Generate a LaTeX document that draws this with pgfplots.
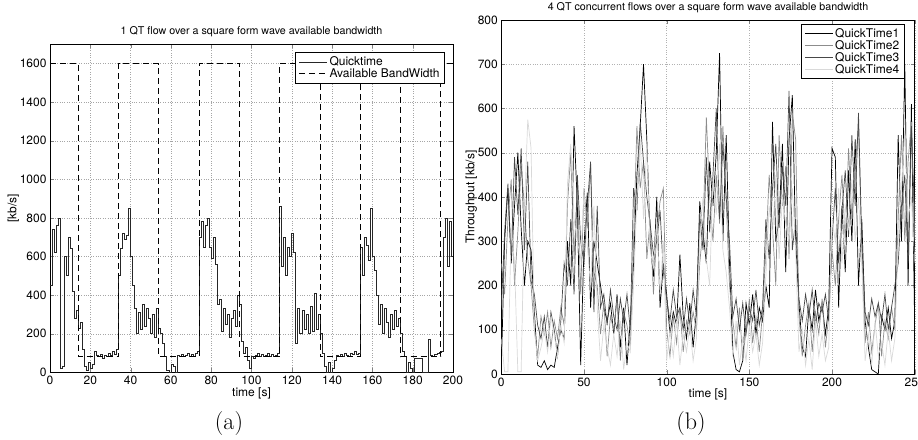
\documentclass[border=0pt]{standalone}
\usepackage{fontspec}
\usepackage{pgfplots}
\usepackage{pgfplotstable}
\pgfplotsset{compat=1.18}
\newfontfamily\hv{TeX Gyre Heros}
\newcommand\axf{\hv\fontsize{12}{14}\selectfont}
\newcommand\ttf{\hv\fontsize{10.7}{12}\selectfont}

% single Quicktime flow, 1 s steps
\pgfplotstableread{
t v
0 450
1 740
2 620
3 760
4 800
5 20
6 30
7 600
8 500
9 700
10 640
11 420
12 280
13 320
14 230
15 260
16 120
17 30
18 10
19 50
20 20
21 40
22 110
23 90
24 80
25 95
26 70
27 90
28 85
29 100
30 90
31 110
32 95
33 120
34 500
35 640
36 720
37 690
38 710
39 850
40 600
41 450
42 330
43 200
44 310
45 220
46 350
47 240
48 330
49 280
50 200
51 300
52 180
53 330
54 230
55 200
56 150
57 80
58 10
59 0
60 40
61 30
62 0
63 90
64 80
65 95
66 85
67 90
68 100
69 80
70 95
71 85
72 100
73 110
74 700
75 780
76 650
77 760
78 800
79 650
80 590
81 700
82 560
83 350
84 380
85 210
86 330
87 250
88 300
89 180
90 280
91 320
92 240
93 400
94 350
95 160
96 100
97 130
98 60
99 20
100 80
101 70
102 90
103 100
104 85
105 95
106 80
107 90
108 100
109 85
110 95
111 80
112 90
113 100
114 860
115 550
116 700
117 500
118 650
119 600
120 720
121 620
122 150
123 330
124 200
125 320
126 220
127 300
128 200
129 340
130 210
131 410
132 220
133 300
134 200
135 100
136 30
137 0
138 50
139 0
140 20
141 60
142 90
143 80
144 95
145 85
146 100
147 90
148 85
149 100
150 95
151 110
152 95
153 100
154 650
155 500
156 700
157 660
158 580
159 850
160 600
161 530
162 400
163 250
164 350
165 200
166 330
167 260
168 180
169 300
170 220
171 320
172 240
173 280
174 200
175 110
176 80
177 0
178 50
179 20
180 0
181 70
182 70
183 70
184 70
185 0
186 0
187 0
188 170
189 90
190 85
191 95
192 100
193 105
194 110
195 700
196 800
197 550
198 780
199 600
200 800
}\qtone

% four concurrent flows, 2 s steps
\pgfplotstableread{
t q1 q2 q3 q4
0 10 250 150 80
2 300 180 320 5
4 420 350 430 5
6 250 440 260 330
8 380 200 490 250
10 500 320 360 5
12 330 470 510 5
14 200 380 280 370
16 300 260 480 575
18 280 200 210 510
20 140 100 180 100
22 20 40 110 30
24 15 130 80 60
26 30 90 130 100
28 10 140 60 50
30 20 60 140 130
32 15 120 100 90
34 60 80 40 40
36 100 150 120 110
38 80 110 250 70
40 300 380 200 430
42 200 500 350 520
44 560 260 180 350
46 380 430 450 300
48 20 180 300 260
50 290 420 250 410
52 410 330 380 290
54 150 470 480 200
56 300 230 140 380
58 250 200 380 150
60 200 90 150 30
62 150 160 180 110
64 120 40 110 60
66 160 130 190 20
68 90 100 130 90
70 180 170 100 40
72 60 30 170 120
74 150 140 120 10
76 20 110 180 70
78 120 60 100 50
80 250 300 420 200
82 450 560 370 400
84 560 420 570 530
86 700 480 480 350
88 530 260 400 520
90 300 350 340 280
92 220 180 270 240
94 400 320 300 350
96 150 390 370 180
98 250 420 230 300
100 180 100 170 30
102 90 40 120 100
104 140 130 190 40
106 110 70 130 120
108 270 150 150 20
110 130 50 100 90
112 80 120 170 50
114 160 90 110 110
116 60 140 190 30
118 140 100 130 80
120 390 250 360 300
122 320 330 280 400
124 250 580 490 260
126 480 400 320 200
128 380 300 450 440
130 500 450 600 360
132 725 340 350 520
134 300 560 520 280
136 540 390 400 230
138 250 200 300 150
140 50 120 130 40
142 10 60 170 120
144 5 150 100 20
146 30 30 160 80
148 160 100 90 30
150 110 170 150 110
152 180 70 120 50
154 90 130 190 90
156 150 50 110 20
158 120 140 150 70
160 200 280 350 220
162 150 450 260 380
164 570 330 420 310
166 300 200 520 450
168 350 540 330 260
170 520 380 470 400
172 230 470 380 340
174 530 260 640 300
176 630 590 280 420
178 300 530 350 280
180 160 130 170 50
182 60 40 120 100
184 40 110 180 20
186 150 160 130 80
188 100 50 190 10
190 190 140 110 120
192 120 90 160 40
194 160 170 140 90
196 90 60 180 30
198 150 130 120 60
200 510 280 300 350
202 490 200 420 300
204 150 350 250 420
206 380 450 370 250
208 230 300 460 380
210 460 510 310 330
212 300 350 540 440
214 530 470 380 300
216 200 560 590 400
218 350 280 300 250
220 120 70 140 30
222 60 140 110 90
224 10 50 170 20
226 5 110 130 120
228 0 160 160 40
230 130 40 120 70
232 100 120 180 20
234 150 80 100 100
236 80 150 150 30
238 120 100 200 80
240 540 350 250 300
242 300 540 380 420
244 700 300 450 550
246 200 480 250 350
248 610 570 560 400
250 100 300 350 250
}\qtfour

\pgfplotsset{
  mlab/.style={
    scale only axis,
    anchor=south west,
    /pgf/number format/assume math mode=true,
    /pgf/number format/1000 sep={},
    tick label style={font=\axf},
    label style={font=\axf},
    title style={font=\ttf, yshift=-2pt},
    xlabel style={yshift=4pt},
    tick align=inside,
    major tick length=4pt,
    axis line style={line width=0.8pt},
    grid=major,
    major grid style={dotted, gray!70},
    legend cell align=left,
    legend style={draw=black, line width=0.9pt, font=\axf, row sep=-2.5pt},
    legend image code/.code={\draw[#1] (0pt,0pt) -- (28pt,0pt);},
  },
}

\begin{document}
\begin{tikzpicture}
\begin{axis}[mlab,
  at={(50pt,66.7pt)},
  width=403pt, height=328pt,
  xmin=0, xmax=200, ymin=0, ymax=1700,
  xtick={0,20,...,200},
  ytick={0,200,...,1600},
  title={1 QT flow over a square form wave available bandwidth},
  xlabel={time [s]},
  ylabel={[kb/s]},
  ylabel style={yshift=-6pt},
  legend style={at={(rel axis cs:1,1)}, anchor=north east, xshift=-8pt, yshift=-8pt},
]
\addplot[const plot, black!85, line width=0.75pt] table[x=t, y=v] {\qtone};
\addlegendentry{Quicktime}
\addplot[const plot, black, line width=1pt, dash pattern=on 6pt off 4pt] coordinates {
(0,1600)(14,80)(34,1600)(54,80)(74,1600)(94,80)(114,1600)(134,80)(154,1600)(174,80)(194,1600)(200,1600)
};
\addlegendentry{Available BandWidth}
\end{axis}

\begin{axis}[mlab,
  at={(501.3pt,65pt)},
  width=413.4pt, height=354pt,
  xmin=0, xmax=250, ymin=0, ymax=800,
  xtick={0,50,...,250},
  ytick={0,100,...,800},
  major grid style={dotted, gray!60},
  title={4 QT concurrent flows over a square form wave available bandwidth},
  xlabel={time [s]},
  ylabel={Throughput [kb/s]},
  ylabel style={yshift=-6pt},
  legend style={at={(rel axis cs:1,1)}, anchor=north east, xshift=-10pt, yshift=-4pt},
]
\addplot[black, line width=0.7pt] table[x=t, y=q1] {\qtfour};
\addlegendentry{QuickTime1}
\addplot[black!45, line width=0.7pt] table[x=t, y=q2] {\qtfour};
\addlegendentry{QuickTime2}
\addplot[black!72, line width=0.7pt] table[x=t, y=q3] {\qtfour};
\addlegendentry{QuickTime3}
\addplot[black!15, line width=0.7pt] table[x=t, y=q4] {\qtfour};
\addlegendentry{QuickTime4}
\end{axis}

\node[font=\fontsize{24}{28}\selectfont] at (229pt,15pt) {(a)};
\node[font=\fontsize{24}{28}\selectfont] at (691pt,15pt) {(b)};

\pgfresetboundingbox
\path (0pt,0pt) rectangle (918pt,439pt);
\end{tikzpicture}
\end{document}
